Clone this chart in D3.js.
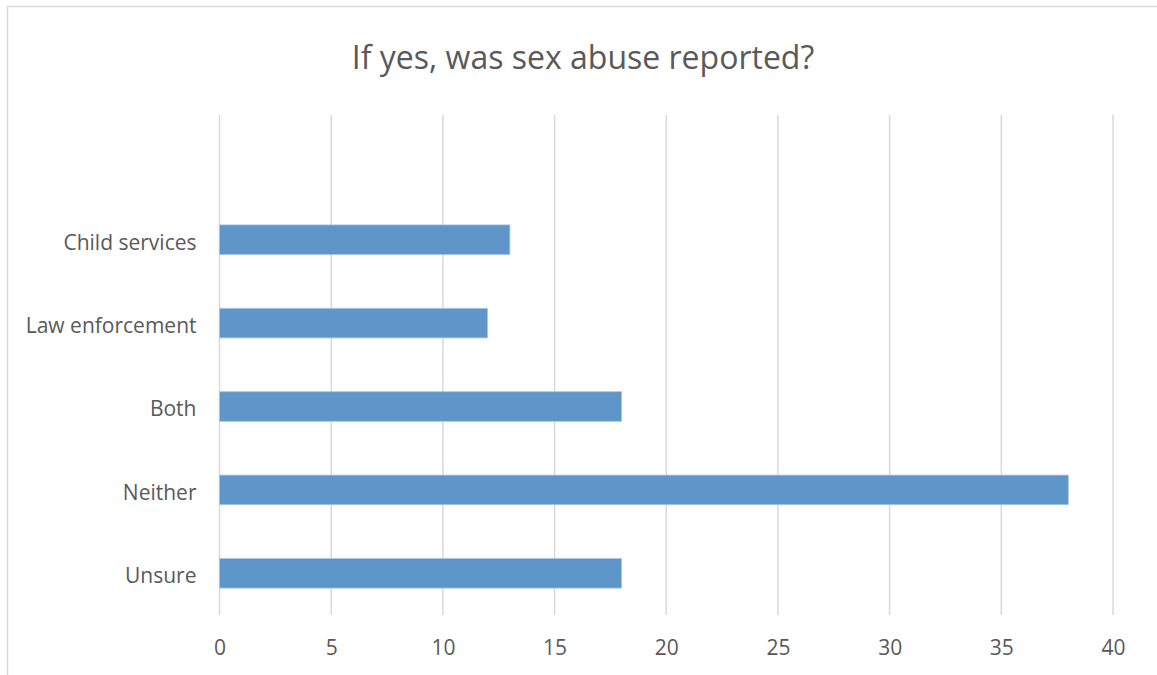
<!DOCTYPE html>
<html>
<head>
<meta charset="utf-8">
<script src="https://cdn.jsdelivr.net/npm/d3@7"></script>
<style>
  html, body { margin: 0; padding: 0; background: #fff; }
  svg text { font-family: "Open Sans", sans-serif; fill: #595959; }
</style>
</head>
<body>
<svg id="chart" width="1157" height="675"></svg>
<script>
// Survey responses: how the reported abuse was handled
const categories = ["Child services", "Law enforcement", "Both", "Neither", "Unsure"];
const counts = [13, 12, 18, 38, 18];
const xTicks = [0, 5, 10, 15, 20, 25, 30, 35, 40];
const title = "If yes, was sex abuse reported?";

const svg = d3.select("#chart");
const W = 1157, H = 675;
const FONT = "'Open Sans', sans-serif";

// chart frame (outer border runs off the right and bottom edges)
svg.append("rect")
  .attr("x", 7.5).attr("y", 6.5)
  .attr("width", W).attr("height", H)
  .attr("fill", "#fff").attr("stroke", "#d9d9d9").attr("stroke-width", 1.5);

const plot = { left: 219.5, right: 1113, top: 115, bottom: 615, bandTop: 198 };

const x = d3.scaleLinear().domain([0, 40]).range([plot.left, plot.right]);
const y = d3.scaleBand().domain(categories).range([plot.bandTop, plot.bottom])
  .paddingInner(0.645).paddingOuter(0.3225);

// vertical gridlines
svg.append("g").selectAll("line").data(xTicks).join("line")
  .attr("x1", d => x(d)).attr("x2", d => x(d))
  .attr("y1", plot.top).attr("y2", plot.bottom)
  .attr("stroke", "#d9d9d9").attr("stroke-width", 1.5);

// bars
svg.append("g").selectAll("rect").data(categories).join("rect")
  .attr("x", x(0))
  .attr("y", d => y(d))
  .attr("width", (d, i) => x(counts[i]) - x(0))
  .attr("height", y.bandwidth())
  .attr("fill", "#5f96c9")
  .attr("stroke", "#a9c6e4").attr("stroke-width", 0.8);

// x axis tick labels
const xAxis = d3.axisBottom(x).tickValues(xTicks).tickSize(0).tickPadding(0);
const gx = svg.append("g").attr("transform", `translate(0,${plot.bottom + 40})`).call(xAxis);
gx.select(".domain").remove();
gx.selectAll("text").attr("font-size", 21).attr("font-family", FONT)
  .attr("fill", "#595959").attr("dy", "0");

// category labels
const yAxis = d3.axisLeft(y).tickSize(0).tickPadding(23);
const gy = svg.append("g").attr("transform", `translate(${plot.left},0)`).call(yAxis);
gy.select(".domain").remove();
gy.selectAll("text").attr("font-size", 21).attr("font-family", FONT)
  .attr("fill", "#595959").attr("dy", "0.47em");

// title
svg.append("text")
  .attr("x", 583).attr("y", 69)
  .attr("text-anchor", "middle")
  .attr("font-size", 32)
  .text(title);
</script>
</body>
</html>
